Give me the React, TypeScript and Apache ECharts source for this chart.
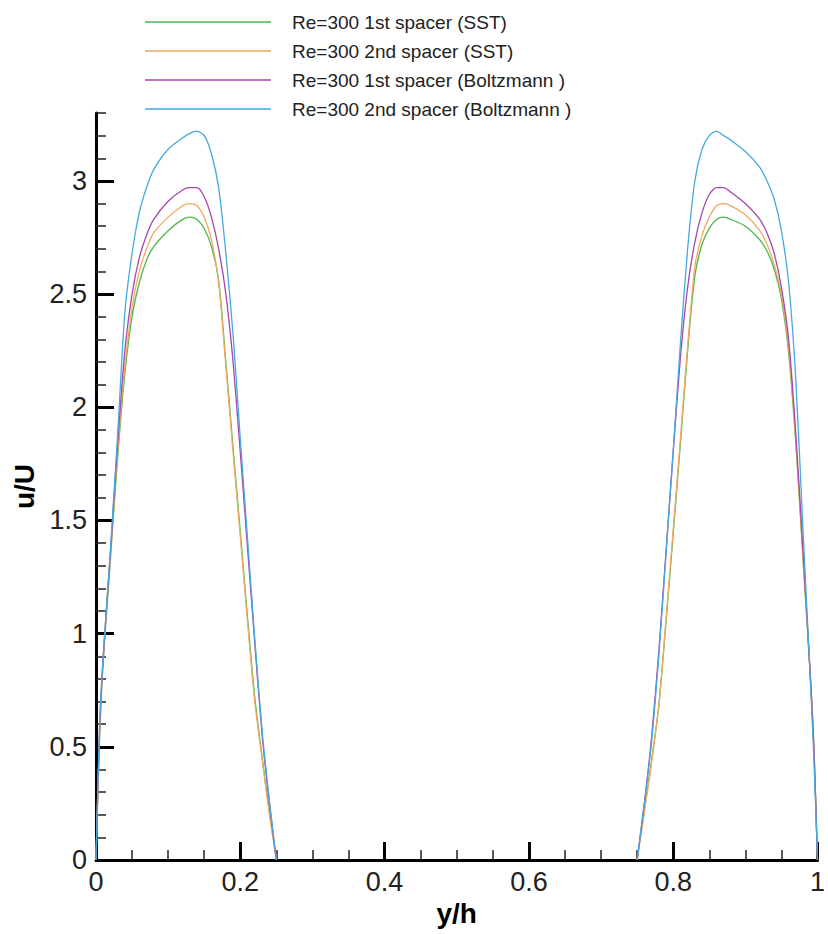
import React, { useEffect, useRef } from "react";
import * as echarts from "echarts";

// y/h sample positions (null entry at 0.5 = gap between the two channels)
const YH = [
  0, 0.005, 0.01, 0.02, 0.03, 0.04, 0.05, 0.06, 0.07, 0.08, 0.1, 0.12, 0.13, 0.14, 0.15, 0.16, 0.17, 0.18, 0.19, 0.2, 0.21, 0.22, 0.23, 0.24, 0.25,
  0.5,
  0.75, 0.76, 0.77, 0.78, 0.79, 0.8, 0.81, 0.82, 0.83, 0.84, 0.85, 0.86, 0.87, 0.88, 0.9, 0.92, 0.93, 0.94, 0.95, 0.96, 0.97, 0.98, 0.99, 0.995, 1.0,
];

const SST_1ST = [
  0, 0.55, 0.88, 1.33, 1.78, 2.15, 2.4, 2.55, 2.65, 2.71, 2.78, 2.83, 2.84, 2.83, 2.79, 2.71, 2.56, 2.2, 1.82, 1.45, 1.07, 0.72, 0.46, 0.22, 0,
  null,
  0, 0.22, 0.44, 0.68, 1.05, 1.44, 1.84, 2.25, 2.58, 2.72, 2.79, 2.83, 2.84, 2.83, 2.8, 2.74, 2.69, 2.61, 2.48, 2.24, 1.84, 1.33, 0.82, 0.5, 0,
];

const SST_2ND = [
  0, 0.55, 0.88, 1.34, 1.8, 2.18, 2.44, 2.6, 2.7, 2.77, 2.84, 2.89, 2.9, 2.89, 2.84, 2.74, 2.55, 2.18, 1.8, 1.43, 1.05, 0.7, 0.45, 0.21, 0,
  null,
  0, 0.21, 0.43, 0.68, 1.06, 1.46, 1.86, 2.27, 2.62, 2.76, 2.84, 2.89, 2.9, 2.89, 2.85, 2.78, 2.72, 2.63, 2.5, 2.26, 1.85, 1.33, 0.82, 0.5, 0,
];

const LBM_1ST = [
  0, 0.58, 0.9, 1.36, 1.84, 2.25, 2.5, 2.66, 2.76, 2.83, 2.91, 2.96, 2.97, 2.97, 2.93, 2.84, 2.7, 2.5, 2.2, 1.8, 1.38, 0.96, 0.56, 0.26, 0,
  null,
  0, 0.25, 0.54, 0.92, 1.36, 1.8, 2.22, 2.53, 2.73, 2.86, 2.94, 2.97, 2.97, 2.95, 2.9, 2.83, 2.77, 2.68, 2.53, 2.3, 1.88, 1.36, 0.82, 0.5, 0,
];

const LBM_2ND = [
  0, 0.6, 0.9, 1.37, 1.88, 2.42, 2.68, 2.86, 2.97, 3.05, 3.14, 3.19, 3.21, 3.22, 3.2, 3.12, 2.97, 2.68, 2.32, 1.86, 1.42, 0.98, 0.58, 0.27, 0,
  null,
  0, 0.25, 0.52, 0.9, 1.35, 1.81, 2.28, 2.7, 3.0, 3.14, 3.2, 3.22, 3.2, 3.18, 3.13, 3.06, 3.0, 2.92, 2.78, 2.55, 2.12, 1.45, 0.8, 0.45, 0,
];

const SERIES_NAMES = [
  "Re=300 1st spacer (SST)",
  "Re=300 2nd spacer (SST)",
  "Re=300 1st spacer (Boltzmann )",
  "Re=300 2nd spacer (Boltzmann )",
];
const SERIES_VALUES = [SST_1ST, SST_2ND, LBM_1ST, LBM_2ND];
const SERIES_COLORS = ["#4cb84c", "#f3a95f", "#a448aa", "#45a9e0"];

const X_MAJOR = [0, 0.2, 0.4, 0.6, 0.8, 1];
const X_MINOR = [0.05, 0.1, 0.15, 0.25, 0.3, 0.35, 0.45, 0.5, 0.55, 0.65, 0.7, 0.75, 0.85, 0.9, 0.95];
const Y_MAJOR = [0, 0.5, 1, 1.5, 2, 2.5, 3];
const Y_MINOR = [
  0.1, 0.2, 0.3, 0.4, 0.6, 0.7, 0.8, 0.9, 1.1, 1.2, 1.3, 1.4, 1.6, 1.7, 1.8, 1.9,
  2.1, 2.2, 2.3, 2.4, 2.6, 2.7, 2.8, 2.9, 3.1, 3.2, 3.3,
];

const FONT = "Arial, 'Liberation Sans', sans-serif";

export default function App() {
  const ref = useRef<HTMLDivElement>(null);

  useEffect(() => {
    document.body.style.margin = "0";
    if (!ref.current) return;
    const chart = echarts.init(ref.current, undefined, { renderer: "svg" });

    const series = SERIES_NAMES.map((name, k) => ({
      name,
      type: "line",
      xAxisIndex: 0,
      yAxisIndex: 0,
      showSymbol: false,
      symbol: "none",
      smooth: 0.25,
      connectNulls: false,
      lineStyle: { color: SERIES_COLORS[k], width: 1.3 },
      itemStyle: { color: SERIES_COLORS[k] },
      data: YH.map((x, i) => [x, SERIES_VALUES[k][i] === null ? "-" : SERIES_VALUES[k][i]]),
    }));

    chart.setOption({
      animation: false,
      backgroundColor: "#ffffff",
      grid: { left: 96, right: 8, top: 113, bottom: 74, containLabel: false },
      legend: {
        orient: "vertical",
        left: 140,
        top: 7,
        icon: "rect",
        itemWidth: 126,
        itemHeight: 1.5,
        itemGap: 9,
        textStyle: {
          fontSize: 19,
          lineHeight: 20,
          color: "#222",
          fontFamily: FONT,
          padding: [0, 0, 0, 16],
        },
        data: SERIES_NAMES,
      },
      xAxis: [
        {
          type: "value",
          min: 0,
          max: 1,
          position: "bottom",
          name: "y/h",
          nameLocation: "middle",
          nameGap: 33,
          nameTextStyle: { fontSize: 28, fontWeight: "bold", color: "#000", fontFamily: FONT },
          axisLine: { show: true, onZero: false, lineStyle: { color: "#000", width: 3 } },
          axisTick: { show: true, inside: true, length: 18, lineStyle: { color: "#000", width: 3 }, customValues: X_MAJOR },
          axisLabel: { show: true, customValues: X_MAJOR, fontSize: 27, color: "#222", margin: 8, fontFamily: FONT },
          splitLine: { show: false },
        },
        {
          type: "value",
          min: 0,
          max: 1,
          position: "bottom",
          axisLine: { show: false, onZero: false },
          axisTick: { show: true, inside: true, length: 10, lineStyle: { color: "#222", width: 1.5 }, customValues: X_MINOR },
          axisLabel: { show: false },
          splitLine: { show: false },
        },
      ],
      yAxis: [
        {
          type: "value",
          min: 0,
          max: 3.3,
          position: "left",
          name: "u/U",
          nameLocation: "middle",
          nameGap: 54,
          nameTextStyle: { fontSize: 28, fontWeight: "bold", color: "#000", fontFamily: FONT },
          axisLine: { show: true, onZero: false, lineStyle: { color: "#000", width: 3 } },
          axisTick: { show: true, inside: true, length: 18, lineStyle: { color: "#000", width: 3 }, customValues: Y_MAJOR },
          axisLabel: { show: true, customValues: Y_MAJOR, fontSize: 27, color: "#222", margin: 9, fontFamily: FONT },
          splitLine: { show: false },
        },
        {
          type: "value",
          min: 0,
          max: 3.3,
          position: "left",
          axisLine: { show: false, onZero: false },
          axisTick: { show: true, inside: true, length: 10, lineStyle: { color: "#222", width: 1.5 }, customValues: Y_MINOR },
          axisLabel: { show: false },
          splitLine: { show: false },
        },
      ],
      series,
    });

    return () => {
      chart.dispose();
    };
  }, []);

  return <div ref={ref} style={{ width: 828, height: 934 }} />;
}
